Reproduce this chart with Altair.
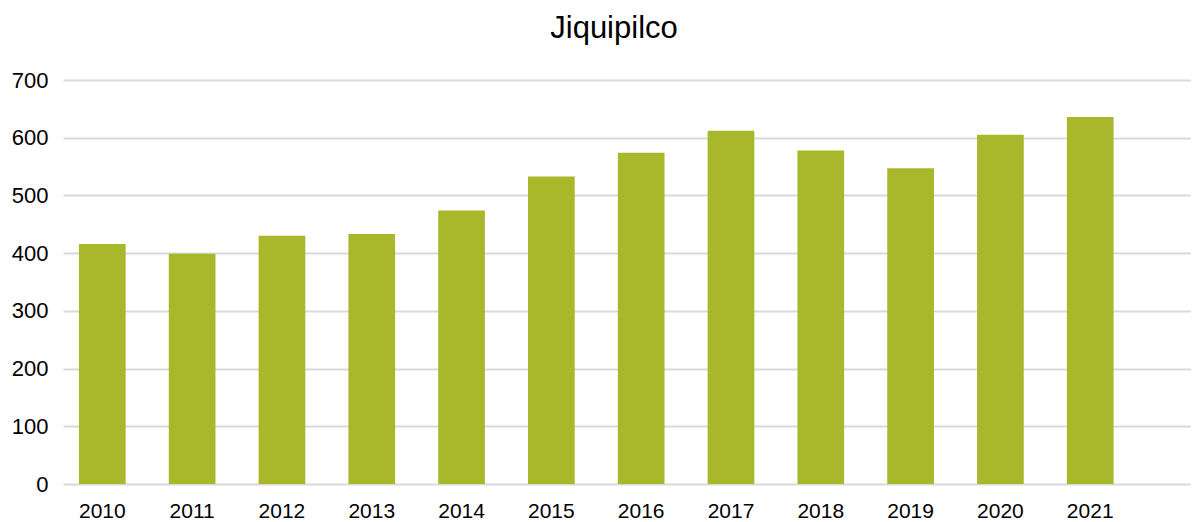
import altair as alt
import pandas as pd

years = ["2010", "2011", "2012", "2013", "2014", "2015", "2016", "2017", "2018", "2019", "2020", "2021"]
values = [416, 399, 430, 433, 474, 533, 574, 612, 578, 547, 605, 636]
y_ticks = [0, 100, 200, 300, 400, 500, 600, 700]

df = pd.DataFrame({"year": years, "value": values})

chart = alt.Chart(df).mark_bar(color="#A8B82A").encode(
    x=alt.X("year:N", sort=years, title=None,
            scale=alt.Scale(paddingInner=0.48, paddingOuter=0.52, align=0.171),
            axis=alt.Axis(labelAngle=0, domain=False, ticks=False, labelPadding=16,
                          labelFontSize=21, labelColor="#000000", labelFont="Liberation Sans", grid=False)),
    y=alt.Y("value:Q", title=None,
            scale=alt.Scale(domain=[0, 700], nice=False),
            axis=alt.Axis(values=y_ticks, domain=False, ticks=False, labelPadding=15,
                          labelFontSize=22, labelColor="#000000", labelFont="Liberation Sans",
                          gridColor="#D9D9D9", gridWidth=2)),
).properties(
    width=1128,
    height=404,
    title=alt.TitleParams("Jiquipilco", fontSize=31, font="Liberation Sans", fontWeight="normal",
                          color="#000000", anchor="middle", dx=-13, offset=24),
    autosize=alt.AutoSizeParams(type="none"),
    padding={"left": 55, "top": 72, "right": 0, "bottom": 40},
).configure_view(stroke=None)

chart.save("out.html", embed_options={"renderer": "svg", "actions": False})
